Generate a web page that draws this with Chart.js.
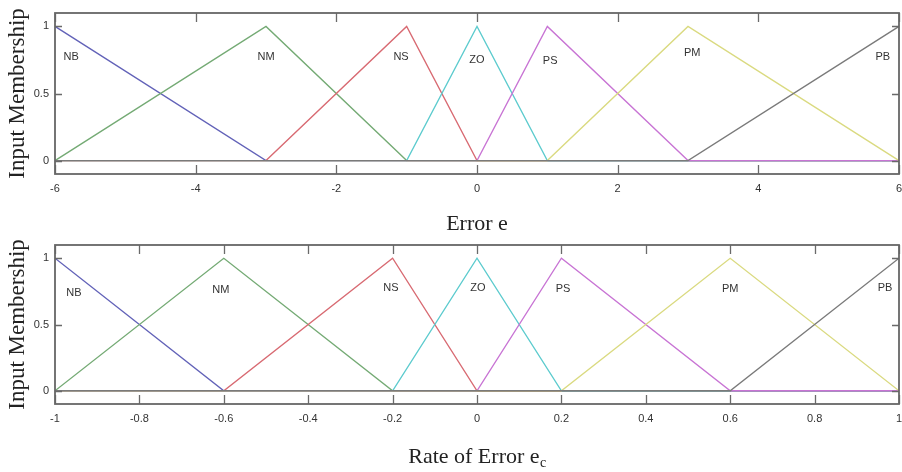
<!DOCTYPE html>
<html><head><meta charset="utf-8">
<script src="https://cdn.jsdelivr.net/npm/chart.js@4"></script>
<style>
html,body{margin:0;padding:0;background:#fff;}
#wrap{position:relative;width:902px;height:472px;overflow:hidden;}
canvas{position:absolute;left:0;}
</style></head><body>
<div id="wrap">
<canvas id="c1" width="902" height="236" style="top:0"></canvas>
<canvas id="c2" width="902" height="236" style="top:236px"></canvas>
</div>
<script>
// ---------- data ----------
const mfNames = ['NB','NM','NS','ZO','PS','PM','PB'];
// Error e : membership breakpoints [x, mu]
const errNB = [[-6,1],[-3,0],[6,0]];
const errNM = [[-6,0],[-3,1],[-1,0],[6,0]];
const errNS = [[-6,0],[-3,0],[-1,1],[0,0],[6,0]];
const errZO = [[-6,0],[-1,0],[0,1],[1,0],[6,0]];
const errPS = [[-6,0],[0,0],[1,1],[3,0],[6,0]];
const errPM = [[-6,0],[1,0],[3,1],[6,0]];
const errPB = [[-6,0],[3,0],[6,1]];
const errTicks = [-6,-4,-2,0,2,4,6];
// Rate of error ec
const rateNB = [[-1,1],[-0.6,0],[1,0]];
const rateNM = [[-1,0],[-0.6,1],[-0.2,0],[1,0]];
const rateNS = [[-1,0],[-0.6,0],[-0.2,1],[0,0],[1,0]];
const rateZO = [[-1,0],[-0.2,0],[0,1],[0.2,0],[1,0]];
const ratePS = [[-1,0],[0,0],[0.2,1],[0.6,0],[1,0]];
const ratePM = [[-1,0],[0.2,0],[0.6,1],[1,0]];
const ratePB = [[-1,0],[0.6,0],[1,1]];
const rateTicks = [-1,-0.8,-0.6,-0.4,-0.2,0,0.2,0.4,0.6,0.8,1];
const yTicks = [0,0.5,1];

// ---------- styling / annotation placement ----------
const colors = ['#6262b8','#74aa74','#d86a72','#5ccbce','#c874d4','#dada80','#7a7a7a'];
const errLabelX = [-5.77,-3.0,-1.08,0,1.04,3.06,5.77];
const errLabelY = [0.774,0.774,0.774,0.752,0.744,0.805,0.774];
const rateLabelX = [-0.955,-0.607,-0.204,0.002,0.204,0.6,0.967];
const rateLabelY = [0.735,0.758,0.773,0.773,0.765,0.765,0.773];

const framePlugin = {
  id: 'frame',
  afterDatasetsDraw(chart, args, opts) {
    const {ctx, chartArea: a, scales: {x, y}} = chart;
    ctx.save();
    // inner ticks
    ctx.strokeStyle = '#6a6a6a';
    ctx.lineWidth = 1.3;
    ctx.beginPath();
    x.ticks.forEach(t => {
      const px = Math.round(x.getPixelForValue(t.value)) + 0.5;
      ctx.moveTo(px, a.top); ctx.lineTo(px, a.top + 9);
      ctx.moveTo(px, a.bottom); ctx.lineTo(px, a.bottom - 9);
    });
    y.ticks.forEach(t => {
      const py = Math.round(y.getPixelForValue(t.value)) + 0.5;
      ctx.moveTo(a.left, py); ctx.lineTo(a.left + 7, py);
      ctx.moveTo(a.right, py); ctx.lineTo(a.right - 7, py);
    });
    ctx.stroke();
    // box
    ctx.lineWidth = 1.8;
    ctx.strokeStyle = '#666';
    ctx.strokeRect(a.left, a.top, a.right - a.left, a.bottom - a.top);
    // MF labels
    ctx.fillStyle = '#333';
    ctx.font = '11px "Liberation Sans", Arial, sans-serif';
    ctx.textAlign = 'center';
    ctx.textBaseline = 'middle';
    mfNames.forEach((n, i) => {
      ctx.fillText(n, x.getPixelForValue(opts.lx[i]), y.getPixelForValue(opts.ly[i]));
    });
    // x title (with optional subscript)
    ctx.fillStyle = '#222';
    ctx.font = '22px "Liberation Serif", "Times New Roman", serif';
    const main = opts.title, sub = opts.sub || '';
    const wMain = ctx.measureText(main).width;
    ctx.font = '14px "Liberation Serif", "Times New Roman", serif';
    const wSub = sub ? ctx.measureText(sub).width : 0;
    const cx = (a.left + a.right) / 2;
    const start = cx - (wMain + wSub) / 2;
    ctx.textAlign = 'left';
    ctx.textBaseline = 'alphabetic';
    ctx.font = '22px "Liberation Serif", "Times New Roman", serif';
    ctx.fillText(main, start, opts.titleBase);
    if (sub) {
      ctx.font = '14px "Liberation Serif", "Times New Roman", serif';
      ctx.fillText(sub, start + wMain + 0.5, opts.titleBase + 4);
    }
    ctx.restore();
  }
};

function toPts(arr) { return arr.map(p => ({x: p[0], y: p[1]})); }

function makeChart(id, series, xMin, xMax, xTicks, lx, ly, title, sub, boxTop, boxBottom, titleBase) {
  const H = 236;
  return new Chart(document.getElementById(id), {
    type: 'scatter',
    data: {
      datasets: series.map((s, i) => ({
        label: mfNames[i],
        data: toPts(s),
        showLine: true,
        order: -i,
        borderColor: colors[i],
        backgroundColor: colors[i],
        borderWidth: 1.3,
        pointRadius: 0,
        pointHoverRadius: 0,
        tension: 0
      }))
    },
    options: {
      responsive: false,
      animation: false,
      events: [],
      layout: {padding: {top: boxTop, right: 3, left: 0, bottom: 0}},
      plugins: {
        legend: {display: false},
        tooltip: {enabled: false},
        frame: {lx, ly, title, sub, titleBase}
      },
      scales: {
        x: {
          type: 'linear', min: xMin, max: xMax,
          afterBuildTicks: sc => { sc.ticks = xTicks.map(v => ({value: v})); },
          afterFit: sc => { sc.height = H - boxBottom; sc.paddingLeft = 0; sc.paddingRight = 0; },
          grid: {display: false, drawTicks: false},
          border: {display: false},
          ticks: {
            padding: 8, color: '#333',
            font: {family: '"Liberation Sans", Arial, sans-serif', size: 11},
            callback: v => String(v), maxRotation: 0, autoSkip: false
          }
        },
        y: {
          type: 'linear', min: -0.1, max: 1.1,
          afterBuildTicks: sc => { sc.ticks = yTicks.map(v => ({value: v})); },
          afterFit: sc => { sc.width = 55; sc.paddingTop = 0; sc.paddingBottom = 0; },
          grid: {display: false, drawTicks: false},
          border: {display: false},
          ticks: {
            padding: 6, color: '#333',
            font: {family: '"Liberation Sans", Arial, sans-serif', size: 11},
            callback: v => String(v)
          },
          title: {
            display: true, text: 'Input Membership', color: '#222',
            font: {family: '"Liberation Serif", "Times New Roman", serif', size: 23, lineHeight: 1.2},
            padding: {top: 4, bottom: 0}
          }
        }
      }
    },
    plugins: [framePlugin]
  });
}

makeChart('c1', [errNB, errNM, errNS, errZO, errPS, errPM, errPB], -6, 6, errTicks,
  errLabelX, errLabelY, 'Error e', '', 13, 174, 230);
makeChart('c2', [rateNB, rateNM, rateNS, rateZO, ratePS, ratePM, ratePB], -1, 1, rateTicks,
  rateLabelX, rateLabelY, 'Rate of Error e', 'c', 9, 168, 227);
</script>
</body></html>
